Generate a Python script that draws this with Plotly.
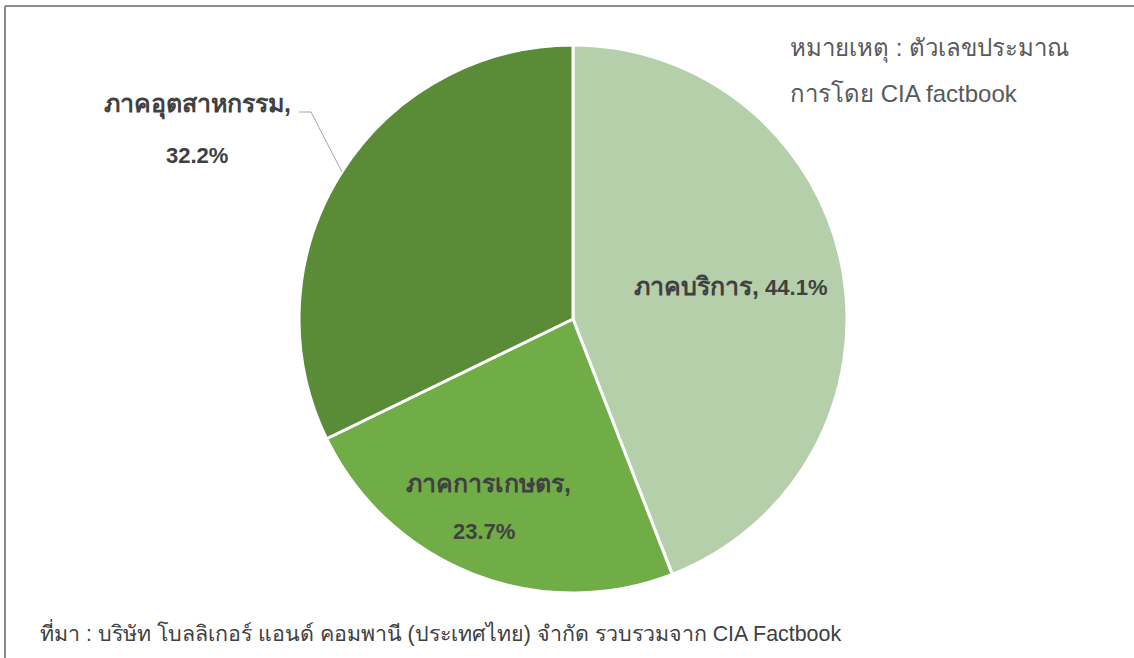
import plotly.graph_objects as go

W, H = 1134, 658

sectors = ["ภาคบริการ", "ภาคการเกษตร", "ภาคอุตสาหกรรม"]
shares = [44.1, 23.7, 32.2]
colors = ["#B4CFA9", "#70AD47", "#5A8C38"]

note_lines = ["หมายเหตุ : ตัวเลขประมาณ", "การโดย CIA factbook"]
source_text = "ที่มา : บริษัท โบลลิเกอร์ แอนด์ คอมพานี (ประเทศไทย) จำกัด รวบรวมจาก CIA Factbook"


def px(x):
    return x / W


def py(y):
    return 1 - y / H


# pie centre and radius in pixels
cx, cy, r = 573, 319, 274

fig = go.Figure(go.Pie(
    labels=sectors,
    values=shares,
    sort=False,
    direction="clockwise",
    rotation=0,
    marker=dict(colors=colors, line=dict(color="white", width=3)),
    textinfo="none",
    hoverinfo="label+percent",
    domain=dict(x=[px(cx - r), px(cx + r)], y=[py(cy + r), py(cy - r)]),
))

FONT = "Arial, Liberation Sans, sans-serif"
lab_font = dict(family=FONT, size=22, color="#404040")
lab = lambda i: "<b><span style='font-size:25px'>%s,</span></b>" % sectors[i]
pct = lambda i: "<b>%.1f%%</b>" % shares[i]

annotations = [
    dict(x=px(730), y=py(286), text=lab(0) + " " + pct(0)),
    dict(x=px(488), y=py(483), text=lab(1)),
    dict(x=px(484), y=py(531), text=pct(1)),
    dict(x=px(197), y=py(104), text=lab(2)),
    dict(x=px(197), y=py(155), text=pct(2)),
]
for a in annotations:
    a.update(xref="paper", yref="paper", xanchor="center", yanchor="middle",
             showarrow=False, font=lab_font)

for yy, line in zip([48, 93], note_lines):
    annotations.append(dict(
        x=px(788), y=py(yy), xref="paper", yref="paper", xanchor="left", yanchor="middle",
        showarrow=False, text=line,
        font=dict(family=FONT, size=24, color="#595959"),
    ))
annotations.append(dict(
    x=px(38), y=py(632), xref="paper", yref="paper", xanchor="left", yanchor="middle",
    showarrow=False, text=source_text,
    font=dict(family=FONT, size=21.4, color="#404040"),
))

shapes = [
    # chart frame, open at right and bottom
    dict(type="line", xref="paper", yref="paper", x0=px(5), x1=1.1, y0=py(6), y1=py(6),
         line=dict(color="#8C8C8C", width=2)),
    dict(type="line", xref="paper", yref="paper", x0=px(5), x1=px(5), y0=py(6), y1=-0.1,
         line=dict(color="#8C8C8C", width=2)),
    # leader line for industry label
    dict(type="path", xref="paper", yref="paper",
         path="M %f,%f L %f,%f L %f,%f" % (px(299), py(112), px(311), py(112), px(342), py(172)),
         line=dict(color="#A6A6A6", width=1)),
]

fig.update_layout(
    width=W, height=H,
    margin=dict(l=0, r=0, t=0, b=0),
    paper_bgcolor="white",
    showlegend=False,
    annotations=annotations,
    shapes=shapes,
)

fig.write_html("out.html", config={"displayModeBar": False},
               post_script="document.body.style.margin='0';")
